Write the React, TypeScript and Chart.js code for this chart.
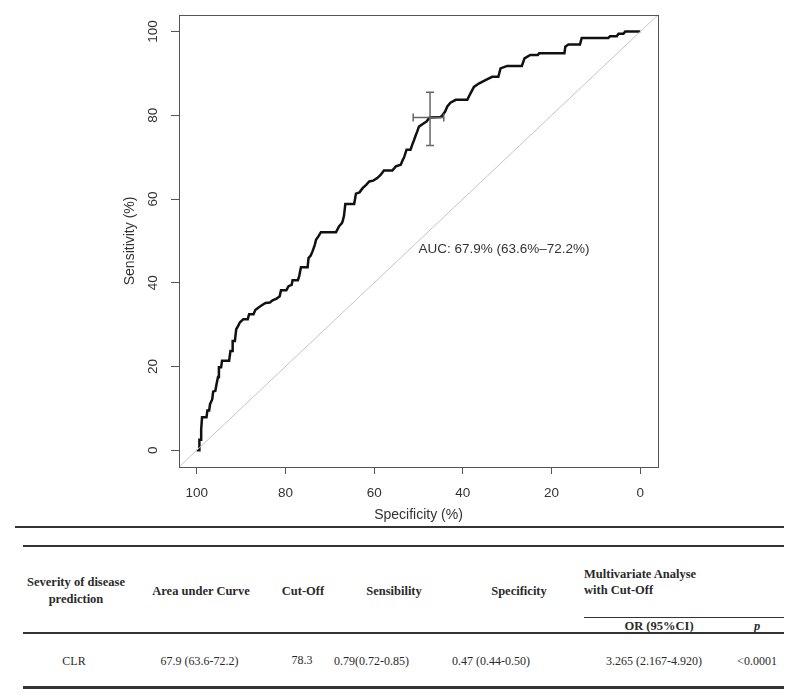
import React, { useEffect, useRef } from "react";
import { Chart, registerables } from "chart.js";

Chart.register(...registerables);

// ---- ROC curve ----
const specificity = [
  100, 99.4, 99.4, 99.0, 99.0, 98.8, 97.8, 97.6, 97.2, 97.0, 96.5, 96.3, 95.8, 95.5, 95.2, 95.0, 94.5, 94.3, 92.7,
  92.4, 92.0, 91.9, 91.4, 91.1, 90.6, 90.3, 89.5, 88.5, 88.2, 87.2, 86.8, 86.2, 85.5, 84.5, 83.5, 82.9, 82.0, 81.3,
  81.0, 79.8, 79.3, 78.6, 78.4, 77.2, 76.9, 76.5, 75.0, 74.8, 74.3, 73.9, 73.4, 73.1, 72.5, 72.0, 68.6, 67.9, 67.3,
  67.1, 66.8, 66.5, 64.5, 64.1, 63.3, 62.6, 61.8, 61.1, 60.2, 59.3, 58.5, 57.8, 55.9, 55.1, 54.0, 53.5, 53.3, 52.7,
  51.8, 51.4, 51.0, 50.6, 50.3, 49.9, 48.8, 48.2, 47.5, 45.0, 44.6, 44.0, 43.5, 42.8, 41.6, 39.0, 38.3, 37.5, 36.4,
  34.9, 33.4, 32.0, 31.5, 30.0, 26.7, 26.1, 24.8, 23.1, 22.8, 17.1, 16.9, 16.2, 13.6, 13.2, 7.2, 6.8, 5.3, 4.9, 3.8,
  3.4, 0,
];
const sensitivity = [
  0, 0, 2.5, 2.5, 5, 7.9, 7.9, 9.5, 9.5, 11, 12.2, 14, 14.2, 16, 17.5, 19.8, 19.8, 21.4, 21.4,
  23.7, 23.7, 26.1, 26.1, 28.9, 29.8, 30.5, 31.3, 31.3, 32.5, 32.5, 33.5, 34.0, 34.5, 35.2, 35.3, 35.8, 36.2, 36.8,
  38.2, 38.2, 39.2, 39.5, 40.6, 40.6, 41.6, 43.7, 43.7, 45.9, 46.5, 47.5, 49.0, 50.3, 51.2, 52.1, 52.1, 53.5, 54.2,
  54.7, 56.0, 58.8, 58.8, 61.3, 61.6, 62.6, 63.4, 64.2, 64.4, 65.0, 65.8, 66.8, 66.8, 67.8, 68.2, 69.5, 69.8, 71.8,
  71.8, 73.0, 74.1, 75.3, 76.1, 77.3, 78.1, 78.5, 79.5, 79.6, 80.0, 80.9, 82.1, 83.0, 83.7, 83.7, 85.2, 86.8, 87.6,
  88.4, 89.2, 89.2, 91.2, 91.8, 91.8, 93.6, 94.4, 94.4, 94.8, 94.8, 96.4, 96.9, 96.9, 98.5, 98.5, 98.9, 98.9, 99.5, 99.5,
  100, 100,
];

// chance diagonal
const diagSpecificity = [104, -4];
const diagSensitivity = [-4, 104];

// cut-off point with its confidence intervals
const cutOffPoint = [47.4, 79.5]; // [specificity, sensitivity]
const cutOffSpecCI = [44.3, 51.2];
const cutOffSensCI = [72.8, 85.5];

const tickValues = [0, 20, 40, 60, 80, 100];
const axisRange = [-4, 104];
const xTitle = "Specificity (%)";
const yTitle = "Sensitivity (%)";
const aucLabel = "AUC: 67.9% (63.6%–72.2%)";
const aucPosition = [50, 48];

// ---- table ----
const headerSeverity = ["Severity of disease", "prediction"];
const headerCols = ["Area under Curve", "Cut-Off", "Sensibility", "Specificity"];
const headerMulti = ["Multivariate Analyse", "with Cut-Off"];
const headerSub = ["OR (95%CI)", "p"];
const rowValues = ["CLR", "67.9 (63.6-72.2)", "78.3", "0.79(0.72-0.85)", "0.47 (0.44-0.50)", "3.265 (2.167-4.920)", "<0.0001"];

const AXIS_FONT = "'Liberation Sans', Arial, sans-serif";
const SERIF = "'Liberation Serif', 'Times New Roman', serif";

const annotationPlugin = {
  id: "rocAnnotations",
  afterDatasetsDraw(chart: any) {
    const { ctx, chartArea: ca, scales } = chart;
    const x = scales.x;
    const y = scales.y;
    ctx.save();
    // frame
    ctx.strokeStyle = "#555";
    ctx.lineWidth = 1;
    ctx.strokeRect(Math.round(ca.left) + 0.5, Math.round(ca.top) + 0.5, Math.round(ca.right - ca.left), Math.round(ca.bottom - ca.top));

    // error bars
    const px = x.getPixelForValue(cutOffPoint[0]);
    const py = y.getPixelForValue(cutOffPoint[1]);
    const cap = 4;
    ctx.strokeStyle = "#666";
    ctx.lineWidth = 1.5;
    ctx.beginPath();
    const sx0 = x.getPixelForValue(cutOffSpecCI[0]);
    const sx1 = x.getPixelForValue(cutOffSpecCI[1]);
    ctx.moveTo(sx0, py);
    ctx.lineTo(sx1, py);
    ctx.moveTo(sx0, py - cap);
    ctx.lineTo(sx0, py + cap);
    ctx.moveTo(sx1, py - cap);
    ctx.lineTo(sx1, py + cap);
    const sy0 = y.getPixelForValue(cutOffSensCI[0]);
    const sy1 = y.getPixelForValue(cutOffSensCI[1]);
    ctx.moveTo(px, sy0);
    ctx.lineTo(px, sy1);
    ctx.moveTo(px - cap, sy0);
    ctx.lineTo(px + cap, sy0);
    ctx.moveTo(px - cap, sy1);
    ctx.lineTo(px + cap, sy1);
    ctx.stroke();

    // AUC text
    ctx.fillStyle = "#333";
    ctx.font = `13.5px ${AXIS_FONT}`;
    ctx.textAlign = "left";
    ctx.textBaseline = "middle";
    ctx.fillText(aucLabel, x.getPixelForValue(aucPosition[0]), y.getPixelForValue(aucPosition[1]));
    ctx.restore();
  },
};

function Txt(props: { x: number; y: number; text: string; align?: "center" | "left"; bold?: boolean; italic?: boolean }) {
  const { x, y, text, align = "center", bold, italic } = props;
  const w = 220;
  return (
    <div
      style={{
        position: "absolute",
        left: align === "center" ? x - w / 2 : x,
        top: y - 8,
        width: w,
        height: 16,
        lineHeight: "16px",
        textAlign: align,
        fontFamily: SERIF,
        fontSize: bold ? 12.5 : 12,
        fontWeight: bold ? 700 : 400,
        fontStyle: italic ? "italic" : "normal",
        color: "#2a2a2a",
        whiteSpace: "nowrap",
      }}
    >
      {text}
    </div>
  );
}

function HLine(props: { x1: number; x2: number; y: number; t: number }) {
  const { x1, x2, y, t } = props;
  return <div style={{ position: "absolute", left: x1, top: y - t / 2, width: x2 - x1, height: t, background: "#333" }} />;
}

export default function App() {
  const canvasRef = useRef<HTMLCanvasElement | null>(null);

  useEffect(() => {
    const canvas = canvasRef.current;
    if (!canvas) return;
    const rocPoints = specificity.map((s, i) => ({ x: s, y: sensitivity[i] }));
    const diagPoints = diagSpecificity.map((s, i) => ({ x: s, y: diagSensitivity[i] }));
    const setTicks = (scale: any) => {
      scale.ticks = tickValues.map((v) => ({ value: v }));
    };
    const chart = new Chart(canvas, {
      type: "scatter",
      data: {
        datasets: [
          {
            data: diagPoints,
            showLine: true,
            borderColor: "#c4c4c4",
            borderWidth: 1,
            pointRadius: 0,
          },
          {
            data: rocPoints,
            showLine: true,
            borderColor: "#111",
            borderWidth: 2.5,
            pointRadius: 0,
            borderJoinStyle: "miter",
          },
        ],
      } as any,
      options: {
        animation: false,
        responsive: false,
        maintainAspectRatio: false,
        events: [],
        layout: { padding: { left: 121, right: 140, top: 13, bottom: 0 } },
        plugins: { legend: { display: false }, tooltip: { enabled: false } },
        scales: {
          x: {
            type: "linear",
            reverse: true,
            min: axisRange[0],
            max: axisRange[1],
            afterBuildTicks: setTicks,
            afterFit: (s: any) => {
              s.height = 63;
            },
            grid: { drawOnChartArea: false, tickLength: 7, color: "#555", lineWidth: 1 },
            border: { display: false },
            ticks: { font: { family: AXIS_FONT, size: 13.5 }, color: "#333", padding: 11, maxRotation: 0, minRotation: 0 },
            title: {
              display: true,
              text: xTitle,
              font: { family: AXIS_FONT, size: 14 },
              color: "#333",
              padding: { top: 0, bottom: 6.6 },
            },
          },
          y: {
            type: "linear",
            min: axisRange[0],
            max: axisRange[1],
            afterBuildTicks: setTicks,
            afterFit: (s: any) => {
              s.width = 58;
            },
            grid: { drawOnChartArea: false, tickLength: 8, color: "#555", lineWidth: 1 },
            border: { display: false },
            ticks: {
              font: { family: AXIS_FONT, size: 13.5 },
              color: "#333",
              padding: 6.75,
              minRotation: 90,
              maxRotation: 90,
              crossAlign: "center",
            },
            title: {
              display: true,
              text: yTitle,
              font: { family: AXIS_FONT, size: 14 },
              color: "#333",
              padding: { top: 0.6, bottom: 0 },
            },
          },
        },
      } as any,
      plugins: [annotationPlugin],
    });
    return () => chart.destroy();
  }, []);

  const colX = [201, 303, 394, 519];
  const rowX = [74, 199.5, 302, 371.5, 491, 654, 757];

  return (
    <div style={{ position: "absolute", left: 0, top: 0, width: 798, height: 700, background: "#fff", overflow: "hidden" }}>
      <canvas ref={canvasRef} width={798} height={530} style={{ position: "absolute", left: 0, top: 0, width: 798, height: 530 }} />
      <HLine x1={15} x2={784} y={527} t={2} />
      <HLine x1={23} x2={784} y={546} t={2} />
      <Txt x={76} y={582} text={headerSeverity[0]} bold />
      <Txt x={76} y={599} text={headerSeverity[1]} bold />
      {headerCols.map((h, i) => (
        <Txt key={h} x={colX[i]} y={591} text={h} bold />
      ))}
      <Txt x={584} y={574} text={headerMulti[0]} align="left" bold />
      <Txt x={584} y={590} text={headerMulti[1]} align="left" bold />
      <HLine x1={584} x2={784} y={617} t={1} />
      <Txt x={659} y={626} text={headerSub[0]} bold />
      <Txt x={757} y={626} text={headerSub[1]} bold italic />
      <HLine x1={23} x2={784} y={633} t={1.5} />
      {rowValues.map((v, i) => (
        <Txt key={i} x={rowX[i]} y={i === 2 ? 659.5 : 661} text={v} />
      ))}
      <HLine x1={23} x2={784} y={687.5} t={2.5} />
    </div>
  );
}
